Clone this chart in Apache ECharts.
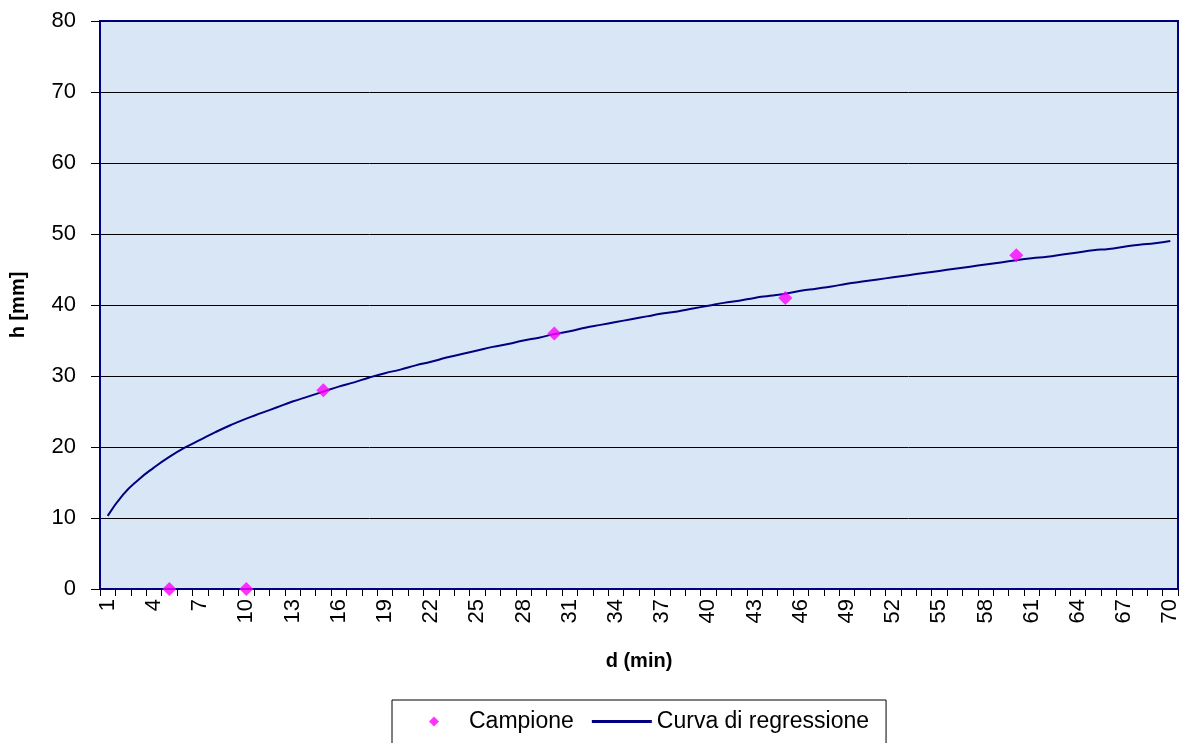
<!DOCTYPE html>
<html>
<head>
<meta charset="utf-8">
<script src="https://cdn.jsdelivr.net/npm/echarts@6/dist/echarts.min.js"></script>
<style>
    html, body { margin: 0; padding: 0; background: #fff; }
    #chart { width: 1193px; height: 743px; }
</style>
</head>
<body>
<div id="chart"></div>
<script>
// d (min) categories, 1..70
var days = [];
for (var i = 1; i <= 70; i++) days.push(String(i));

// measured samples
var sampleD = [5, 10, 15, 30, 45, 60];
var sampleH = [0, 0, 28, 36, 41, 47];

// regression curve
var curveH = [
    10.3, 13.3, 15.4, 17.1, 18.6, 19.9, 21.0, 22.1, 23.1, 24.0,
    24.8, 25.6, 26.4, 27.1, 27.8, 28.5, 29.1, 29.8, 30.4, 30.9,
    31.5, 32.0, 32.6, 33.1, 33.6, 34.1, 34.5, 35.0, 35.4, 35.9,
    36.3, 36.8, 37.2, 37.6, 38.0, 38.4, 38.8, 39.1, 39.5, 39.9,
    40.3, 40.6, 41.0, 41.3, 41.6, 42.0, 42.3, 42.6, 43.0, 43.3,
    43.6, 43.9, 44.2, 44.5, 44.8, 45.1, 45.4, 45.7, 46.0, 46.3,
    46.6, 46.8, 47.1, 47.4, 47.7, 47.9, 48.2, 48.5, 48.7, 49.0
];

var yTicks = { min: 0, max: 80, interval: 10 };

var chart = echarts.init(document.getElementById('chart'));
var font = 'Arial, "Liberation Sans", sans-serif';
var option = {
    animation: false,
    textStyle: { fontFamily: font },
    grid: {
        left: 100, top: 21, width: 1078, height: 568,
        show: true,
        backgroundColor: '#d8e6f6',
        borderColor: '#000080',
        borderWidth: 2
    },
    legend: {
        left: 392, top: 700,
        itemGap: 18,
        padding: [10, 17, 20, 37],
        borderColor: '#000',
        borderWidth: 1,
        textStyle: { fontSize: 23, color: '#000', fontFamily: font },
        data: [
            { name: 'Campione', icon: 'path://M5,0 L10,5 L5,10 L0,5 Z', itemStyle: { color: '#ff00ff' } },
            { name: 'Curva di regressione', icon: 'path://M0,0 L60,0 L60,3 L0,3 Z', itemStyle: { color: '#000080' } }
        ],
        itemWidth: 60, itemHeight: 10
    },
    xAxis: {
        type: 'category',
        data: days,
        boundaryGap: true,
        name: 'd (min)',
        nameLocation: 'middle',
        nameGap: 62,
        nameTextStyle: { fontSize: 20, fontWeight: 'bold', color: '#000', fontFamily: font },
        axisLine: { show: true, lineStyle: { color: '#000080', width: 2 } },
        axisTick: { show: true, interval: 0, length: 7, lineStyle: { color: '#000', width: 1 } },
        axisLabel: { interval: 2, rotate: 90, fontSize: 22, color: '#000', margin: 10, fontFamily: font },
        splitLine: { show: false }
    },
    yAxis: {
        type: 'value',
        min: yTicks.min, max: yTicks.max, interval: yTicks.interval,
        name: 'h [mm]',
        nameLocation: 'middle',
        nameRotate: 90,
        nameGap: 72,
        nameTextStyle: { fontSize: 20, fontWeight: 'bold', color: '#000', fontFamily: font },
        axisLine: { show: true, lineStyle: { color: '#000080', width: 2 } },
        axisTick: { show: true, length: 9, lineStyle: { color: '#000', width: 1 } },
        axisLabel: { fontSize: 22, color: '#000', margin: 24, fontFamily: font },
        splitLine: { lineStyle: { color: '#000', width: 1 } }
    },
    series: [
        {
            name: 'Campione',
            type: 'scatter',
            symbol: 'diamond',
            symbolSize: 14,
            itemStyle: { color: '#ff00ff' },
            data: sampleD.map(function (d, i) { return [String(d), sampleH[i]]; }),
            z: 5
        },
        {
            name: 'Curva di regressione',
            type: 'line',
            smooth: true,
            showSymbol: false,
            lineStyle: { color: '#000080', width: 2 },
            data: curveH
        }
    ]
};
chart.setOption(option);
</script>
</body>
</html>
